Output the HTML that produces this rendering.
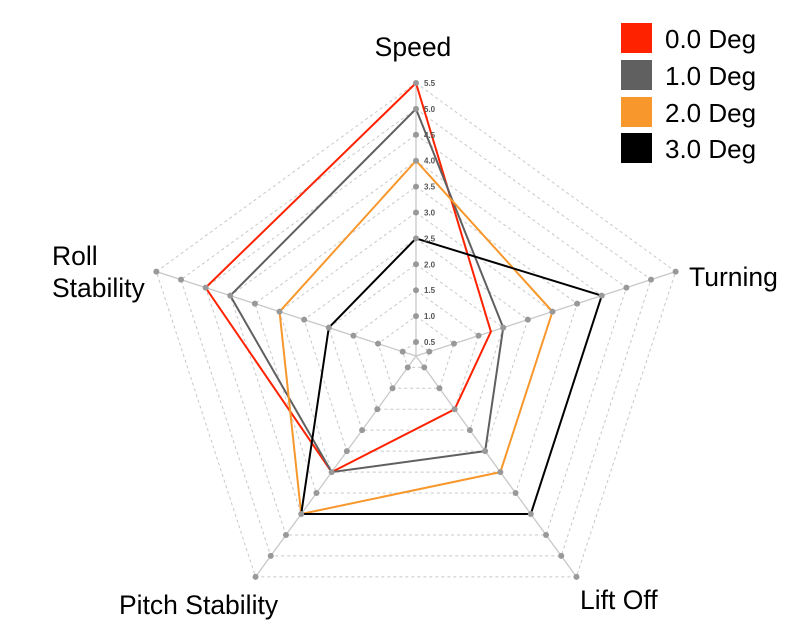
<!DOCTYPE html>
<html><head><meta charset="utf-8"><style>
body{margin:0;background:#fff}
svg{display:block;font-family:"Liberation Sans",Arial,sans-serif}
</style></head><body>
<svg id="s" width="800" height="631" viewBox="0 0 800 631">
<rect width="800" height="631" fill="#fff"/>
<g id="grid"></g>
<g id="series"></g>
<g id="dots"></g>
<g id="ticks" font-size="8" fill="#555" font-weight="bold"></g>
<text x="413" y="56" font-size="26.5" text-anchor="middle">Speed</text>
<text x="689" y="286" font-size="26.5">Turning</text>
<text x="580" y="609" font-size="26.5">Lift Off</text>
<text x="119" y="614" font-size="26.5">Pitch Stability</text>
<text x="52" y="265" font-size="26.5">Roll</text>
<text x="52" y="297" font-size="26.5">Stability</text>
<rect x="621" y="23" width="31" height="30" fill="#ff2200"/>
<rect x="621" y="60" width="31" height="30" fill="#606060"/>
<rect x="621" y="97" width="31" height="30" fill="#f7972c"/>
<rect x="621" y="133" width="31" height="30" fill="#000"/>
<text x="665" y="48" font-size="26">0.0 Deg</text>
<text x="665" y="85" font-size="26">1.0 Deg</text>
<text x="665" y="122" font-size="26">2.0 Deg</text>
<text x="665" y="158" font-size="26">3.0 Deg</text>
</svg>
<script>
var cx=416,cy=356,R=273,U=51.8;
var ang=[-90,-18,54,126,198].map(function(a){return a*Math.PI/180});
function r(v){return R-(5.5-v)*U;}
function pt(i,v){var rr=r(v);return [cx+rr*Math.cos(ang[i]),cy+rr*Math.sin(ang[i])];}
var NS="http://www.w3.org/2000/svg";
function el(p,t,a){var e=document.createElementNS(NS,t);for(var k in a)e.setAttribute(k,a[k]);document.getElementById(p).appendChild(e);return e;}
for(var l=1;l<=11;l++){var v=l*0.5,ps=[];for(var i=0;i<5;i++)ps.push(pt(i,v).join(","));
el("grid","polygon",{points:ps.join(" "),fill:"none",stroke:"#c8c8c8","stroke-width":1,"stroke-dasharray":"3,3"});}
for(var i=0;i<5;i++){var p=pt(i,5.5);el("grid","line",{x1:cx,y1:cy,x2:p[0],y2:p[1],stroke:"#c8c8c8","stroke-width":1.3});
for(var l=1;l<=11;l++){var q=pt(i,l*0.5);el("dots","circle",{cx:q[0],cy:q[1],r:3,fill:"#999"});}}
for(var l=1;l<=11;l++){var q=pt(0,l*0.5);var t=el("ticks","text",{x:q[0]+8,y:q[1]+3});t.textContent=(l*0.5).toFixed(1);}
var data=[["#ff2200",[5.5,1.75,1.5,3.0,4.5]],["#606060",[5.0,2.0,2.5,3.0,4.0]],["#f7972c",[4.0,3.0,3.0,4.0,3.0]],["#000",[2.5,4.0,4.0,4.0,2.0]]];
data.forEach(function(d){var ps=[];for(var i=0;i<5;i++)ps.push(pt(i,d[1][i]).join(","));
el("series","polygon",{points:ps.join(" "),fill:"none",stroke:d[0],"stroke-width":2});});
</script>
</body></html>
